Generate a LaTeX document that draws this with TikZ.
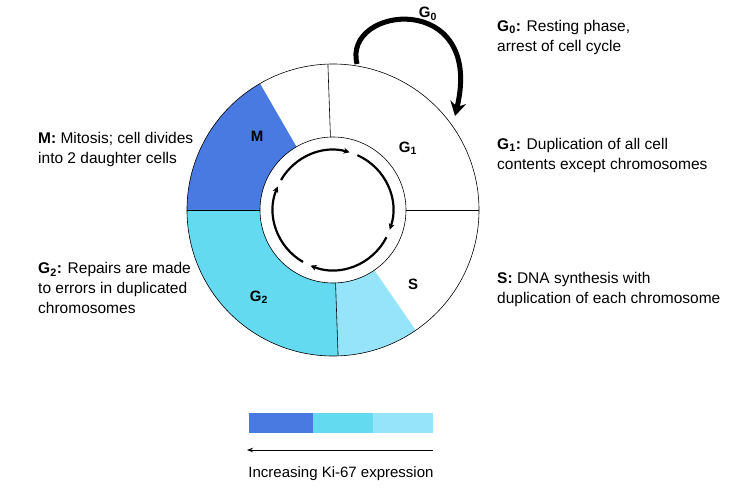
\documentclass[tikz,border=0pt]{standalone}
\usepackage{fontspec}
\setmainfont{Liberation Sans}
\usetikzlibrary{arrows.meta,calc}
\definecolor{mblue}{RGB}{72,122,226}
\definecolor{gcyan}{RGB}{100,218,240}
\definecolor{slight}{RGB}{150,228,250}
\begin{document}
\begin{tikzpicture}[x=1pt,y=-1pt,
  txt/.style={anchor=west,font=\fontsize{15.5}{20}\selectfont,align=left,inner sep=0},
  lab/.style={font=\bfseries\fontsize{15}{17}\selectfont,inner sep=0},
  seg/.style={draw=black,line width=0.6pt}]
\useasboundingbox (0,0) rectangle (732,492);
\fill[white] (0,0) rectangle (732,492);
\def\R{146}\def\r{73}
\coordinate (c) at (333,210);
\fill[mblue] ($(c)+(-120:\R)$) arc[start angle=-120,end angle=-180,radius=\R] -- ($(c)+(-180:\r)$) arc[start angle=-180,end angle=-120,radius=\r] -- cycle;
\fill[gcyan] ($(c)+(-180:\R)$) arc[start angle=-180,end angle=-272,radius=\R] -- ($(c)+(-272:\r)$) arc[start angle=-272,end angle=-180,radius=\r] -- cycle;
\fill[slight] ($(c)+(-272:\R)$) arc[start angle=-272,end angle=-304.5,radius=\R] -- ($(c)+(-304.5:\r)$) arc[start angle=-304.5,end angle=-272,radius=\r] -- cycle;
\draw[seg] (c) circle[radius=\R];
\draw[seg] (c) circle[radius=\r];
\foreach \a in {-92,0,-180,-272} \draw[seg] ($(c)+(\a:\r)$) -- ($(c)+(\a:\R)$);
\foreach \s/\e in {-150/-74,-66/19,27/112,120/203}
  \draw[line width=2.2pt,-{Stealth[length=6pt,width=6pt]}] ($(c)+(\s:60)$) arc[start angle=\s,end angle=\e,radius=60];
\coordinate (g0s) at (357,64);
\coordinate (g0e) at (455,116);
\draw[line width=5pt,-{Stealth[length=14pt,width=16pt]}] (g0s) .. controls (342,5) and (485,-10) .. (g0e);
\node[lab] (g0) at (428,14) {G$_{\mathbf 0}$};
\node[lab] (lm) at (257,136) {M};
\node[lab] (lg1) at (408,148) {G$_{\mathbf 1}$};
\node[lab] (ls) at (413,284) {S};
\node[lab] (lg2) at (259,297) {G$_{\mathbf 2}$};
\node[txt] (t0) at (497,37) {\textbf{G$_{\mathbf 0}$:} Resting phase,\\arrest of cell cycle};
\node[txt] (t1) at (497,155) {\textbf{G$_{\mathbf 1}$:} Duplication of all cell\\contents except chromosomes};
\node[txt] (ts) at (497,289) {\textbf{S:} DNA synthesis with\\duplication of each chromosome};
\node[txt] (tm) at (38,149) {\textbf{M:} Mitosis; cell divides\\into 2 daughter cells};
\node[txt] (t2) at (38,288) {\textbf{G$_{\mathbf 2}$:} Repairs are made\\to errors in duplicated\\chromosomes};
\fill[mblue] (249,413) rectangle (313,433);
\fill[gcyan] (313,413) rectangle (373,433);
\fill[slight] (373,413) rectangle (433,433);
\coordinate (ba) at (433,450);
\coordinate (bb) at (247,450);
\draw[line width=0.8pt,-{Stealth[length=6pt]}] (ba) -- (bb);
\node[font=\fontsize{15}{17}\selectfont,inner sep=0] (ki) at (341,474) {Increasing Ki-67 expression};
\end{tikzpicture}
\end{document}
